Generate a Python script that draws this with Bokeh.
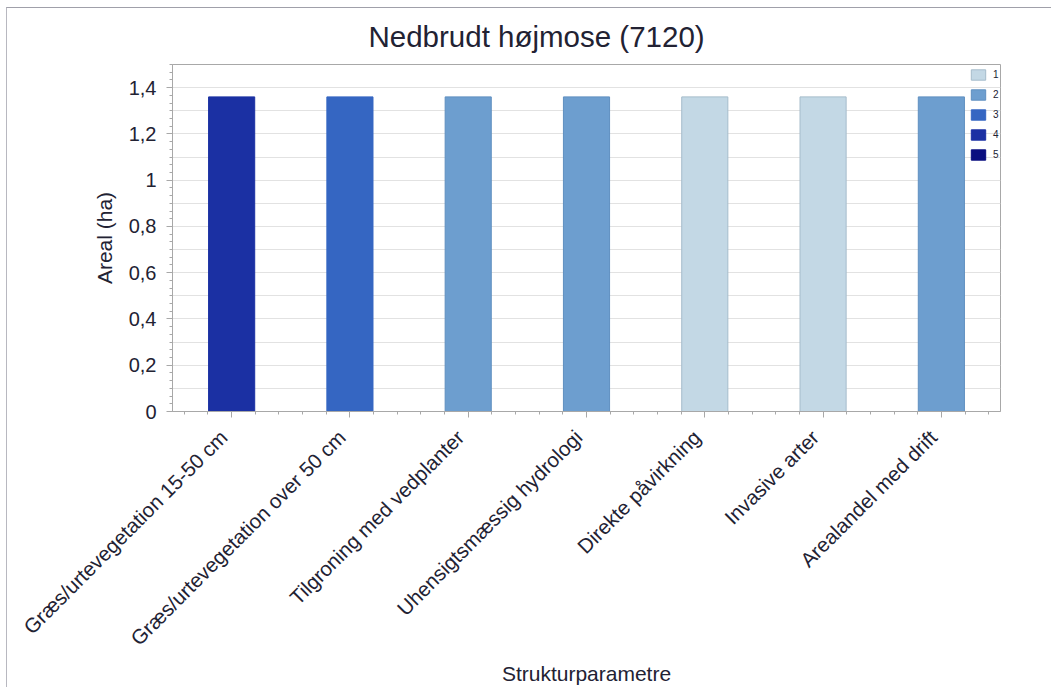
import math
from bokeh.plotting import figure
from bokeh.models import (FixedTicker, Range1d, Legend, LegendItem, ColumnDataSource)
from bokeh.embed import file_html
from bokeh.resources import INLINE

# ---- data ----
categories = [
    "Græs/urtevegetation 15-50 cm",
    "Græs/urtevegetation over 50 cm",
    "Tilgroning med vedplanter",
    "Uhensigtsmæssig hydrologi",
    "Direkte påvirkning",
    "Invasive arter",
    "Arealandel med drift",
]
values = [1.36, 1.36, 1.36, 1.36, 1.36, 1.36, 1.36]
classes = [4, 3, 2, 2, 1, 1, 2]
class_labels = ["1", "2", "3", "4", "5"]
class_colors = ["#c3d8e5", "#6d9ecf", "#3566c2", "#1b30a3", "#0a0f80"]
class_lines = ["#a6bccb", "#5f8fc0", "#3566c2", "#1b30a3", "#0a0f80"]
y_ticks = [0, 0.2, 0.4, 0.6, 0.8, 1.0, 1.2, 1.4]
y_tick_labels = ["0", "0,2", "0,4", "0,6", "0,8", "1", "1,2", "1,4"]

FONT = "Liberation Sans"
TXT = "#222233"
GRAY = "#a8a8a8"
PAD = "\u00a0" * 2  # shifts rotated labels so their end sits at the tick

xs = [i + 0.5 for i in range(len(categories))]
src = ColumnDataSource(dict(
    x=xs,
    top=values,
    fill=[class_colors[c - 1] for c in classes],
    line=[class_lines[c - 1] for c in classes],
))

p = figure(width=1045, height=680, output_backend="svg", toolbar_location=None,
           x_range=Range1d(0, len(categories)), y_range=Range1d(0, 1.5),
           min_border_left=165, min_border_right=52, min_border_top=56,
           min_border_bottom=277, title="Nedbrudt højmose (7120)")
p.styles = {"margin-left": "6px", "margin-top": "7px",
            "border-top": "1px solid #a0a0aa", "border-left": "1px solid #b8b8c0"}

p.title.text_font = FONT
p.title.text_font_size = "29.5px"
p.title.text_font_style = "normal"
p.title.text_color = TXT
p.title.align = "left"
p.title.vertical_align = "top"
p.title.offset = 196
p.title.standoff = 20

p.outline_line_color = GRAY
p.outline_line_width = 1

p.vbar(x="x", top="top", width=0.39, source=src, fill_color="fill", line_color="line", line_width=1)

# legend entries (placeholder renderers with no visible data)
items = []
for lab, fc, lc in zip(class_labels, class_colors, class_lines):
    r = p.vbar(x=[float("nan")], top=[float("nan")], width=0.4, fill_color=fc, line_color=lc)
    items.append(LegendItem(label=lab, renderers=[r]))
leg = Legend(items=items, location=(797, 250), glyph_width=18, glyph_height=13,
             label_height=13, label_width=6, spacing=7, label_standoff=6, padding=0, margin=0,
             label_text_font=FONT, label_text_font_size="10px", label_text_color=TXT,
             border_line_color=None, background_fill_alpha=0)
p.add_layout(leg, "center")

# y axis
p.yaxis.ticker = FixedTicker(ticks=y_ticks, minor_ticks=[k / 30 for k in range(46)])
p.yaxis.major_label_overrides = {t: l for t, l in zip(y_ticks, y_tick_labels)}
p.yaxis.axis_label = "Areal (ha)"
p.ygrid.ticker = FixedTicker(ticks=[k / 10 for k in range(16)])
p.ygrid.grid_line_color = "#e2e2e2"
p.xgrid.grid_line_color = None

# x axis
p.xaxis.ticker = FixedTicker(ticks=xs, minor_ticks=[0.1 + 0.2 * k for k in range(35)])
p.xaxis.major_label_overrides = {x: c + PAD for x, c in zip(xs, categories)}
p.xaxis.major_label_orientation = math.pi / 4
p.xaxis.axis_label = "Strukturparametre"

for ax in (p.xaxis[0], p.yaxis[0]):
    ax.axis_line_color = GRAY
    ax.major_tick_line_color = GRAY
    ax.minor_tick_line_color = GRAY
    ax.major_tick_out = 6
    ax.major_tick_in = 0
    ax.minor_tick_out = 3
    ax.minor_tick_in = 0
    ax.major_label_text_font = FONT
    ax.major_label_text_font_size = "20px"
    ax.major_label_text_color = TXT
    ax.axis_label_text_font = FONT
    ax.axis_label_text_font_size = "21px"
    ax.axis_label_text_font_style = "normal"
    ax.axis_label_text_color = TXT

p.xaxis.major_label_text_font_size = "20.5px"
p.yaxis.major_label_standoff = 10
p.xaxis.major_label_standoff = 8
p.yaxis.axis_label_standoff = 10
p.xaxis.axis_label_standoff = 1

open("out.html", "w").write(file_html(p, INLINE))
